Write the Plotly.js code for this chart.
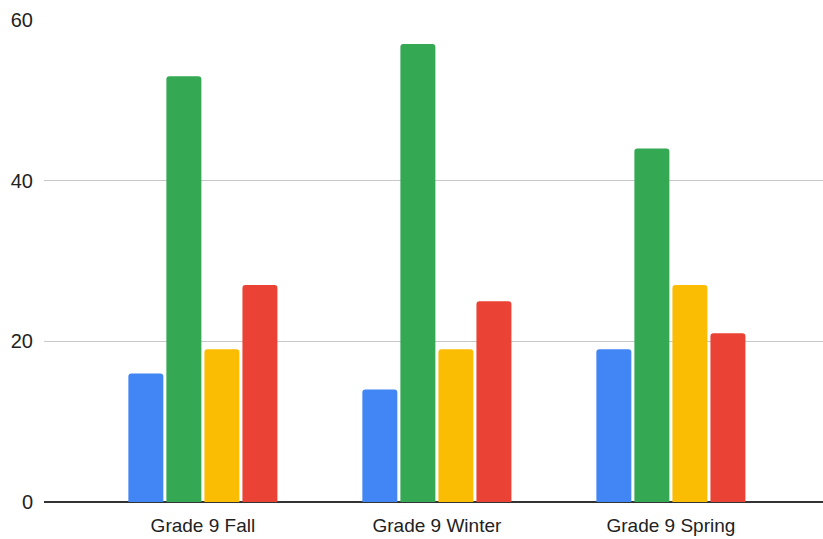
<!DOCTYPE html>
<html><head><meta charset="utf-8">
<script src="https://cdn.plot.ly/plotly-3.0.1.min.js"></script>
<style>html,body{margin:0;padding:0;background:#fff}#chart{width:823px;height:539px}</style>
</head><body><div id="chart"></div>
<script>
const categories = ["Grade 9 Fall", "Grade 9 Winter", "Grade 9 Spring"];
const seriesA = [16, 14, 19];
const seriesB = [53, 57, 44];
const seriesC = [19, 19, 27];
const seriesD = [27, 25, 21];
const yTicks = [0, 20, 40, 60];

const colors = ["#4285F4", "#34A853", "#FBBC04", "#EA4335"];
const all = [seriesA, seriesB, seriesC, seriesD];
const traces = all.map((s, i) => ({
  type: "bar", x: [0, 1, 2], y: s,
  marker: {color: colors[i], cornerradius: 3},
  hoverinfo: "none", showlegend: false
}));

Plotly.newPlot("chart", traces, {
  width: 823, height: 539,
  margin: {l: 44, r: 0, t: 20, b: 37},
  barmode: "group", bargap: 0.35, bargroupgap: 0.08,
  paper_bgcolor: "#fff", plot_bgcolor: "#fff",
  font: {family: "'Liberation Sans', Arial, sans-serif", color: "#222"},
  xaxis: {
    range: [-0.679, 2.65], tickvals: [0, 1, 2], ticktext: categories,
    showgrid: false, zeroline: false, ticks: "", tickfont: {size: 19},
    ticklabelstandoff: 10,
    showline: false, fixedrange: true
  },
  yaxis: {
    range: [0, 60], tickvals: yTicks, showgrid: true, gridcolor: "#c8c8c8", gridwidth: 1.5,
    zeroline: true, zerolinecolor: "#333", zerolinewidth: 2,
    ticks: "", ticklabelstandoff: 10, tickfont: {size: 20}, showline: false, fixedrange: true
  }
}, {staticPlot: true});
</script></body></html>
